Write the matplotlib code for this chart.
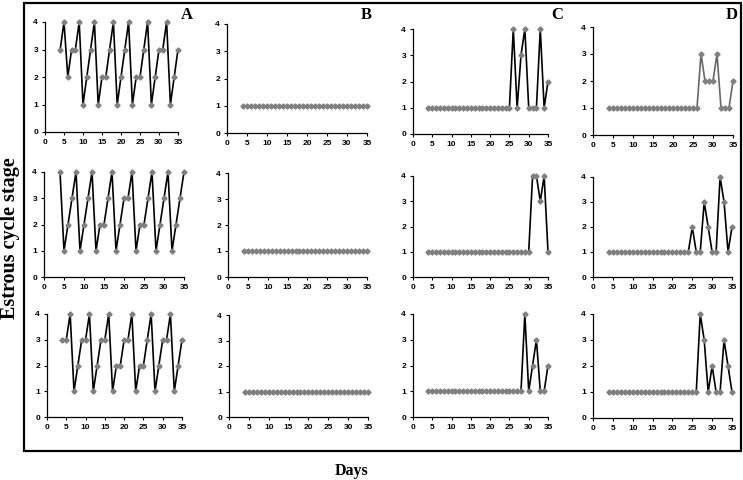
import matplotlib.pyplot as plt
from matplotlib.patches import Rectangle

days = list(range(4, 36))

# row 1..3 for each group A-D (estrous cycle stage per day)
A1 = [3, 4, 2, 3, 3, 4, 1, 2, 3, 4, 1, 2, 2, 3, 4, 1, 2, 3, 4, 1, 2, 2, 3, 4, 1, 2, 3, 3, 4, 1, 2, 3]
A2 = [4, 1, 2, 3, 4, 1, 2, 3, 4, 1, 2, 2, 3, 4, 1, 2, 3, 3, 4, 1, 2, 2, 3, 4, 1, 2, 3, 4, 1, 2, 3, 4]
A3 = [3, 3, 4, 1, 2, 3, 3, 4, 1, 2, 3, 3, 4, 1, 2, 2, 3, 3, 4, 1, 2, 2, 3, 4, 1, 2, 3, 3, 4, 1, 2, 3]
B1 = [1] * 32
B2 = [1] * 32
B3 = [1] * 32
C1 = [1] * 22 + [4, 1, 3, 4, 1, 1, 1, 4, 1, 2]
C2 = [1] * 27 + [4, 4, 3, 4, 1]
C3 = [1] * 25 + [4, 1, 2, 3, 1, 1, 2]
D1 = [1] * 23 + [3, 2, 2, 2, 3, 1, 1, 1, 2]
D2 = [1] * 21 + [2, 1, 1, 3, 2, 1, 1, 4, 3, 1, 2]
D3 = [1] * 23 + [4, 3, 1, 2, 1, 1, 3, 2, 1]

panels = [[A1, B1, C1, D1], [A2, B2, C2, D2], [A3, B3, C3, D3]]
letters = ['A', 'B', 'C', 'D']

# pixel layout: (x at 0, x at 35, y at 4, y at 0)
boxes = [
    [(45, 178, 22, 132), (227, 367, 24, 133), (413, 548, 29, 134), (593, 733, 27, 135)],
    [(44, 184, 172, 277), (228, 367, 173, 277), (413, 548, 176, 277), (593, 732, 177, 277)],
    [(47, 182, 314, 417), (229, 368, 315, 417), (413, 548, 314, 417), (593, 732, 314, 418)],
]
letter_pos = [(187, 15), (366, 15), (557, 15), (732, 15)]

W, H = 743, 480
fig = plt.figure(figsize=(W / 100, H / 100), dpi=100)
tick_font = ['Liberation Sans Narrow', 'Liberation Sans', 'DejaVu Sans']

for r in range(3):
    for c in range(4):
        x0, x1, yt, yb = boxes[r][c]
        ax = fig.add_axes([x0 / W, 1 - yb / H, (x1 - x0) / W, (yb - yt) / H])
        line_col = '#666666' if (r == 0 and c == 3) else 'black'
        ax.plot(days, panels[r][c], color=line_col, lw=1.2, zorder=2, clip_on=False)
        ax.plot(days, panels[r][c], ls='none', marker='D', ms=2.6, color='#808080',
                zorder=3, clip_on=False)
        ax.set_xlim(0, 35)
        ax.set_ylim(0, 4)
        ax.set_xticks(range(0, 36, 5))
        ax.set_yticks(range(0, 5))
        ax.spines['top'].set_visible(False)
        ax.spines['right'].set_visible(False)
        for s in ['left', 'bottom']:
            ax.spines[s].set_linewidth(0.9)
        ax.tick_params(direction='out', length=2, width=0.8, pad=3, labelsize=6)
        for lab in ax.get_xticklabels() + ax.get_yticklabels():
            lab.set_family(tick_font)
            lab.set_fontweight('bold')
        ax.patch.set_alpha(0)

for L, (lx, ly) in zip(letters, letter_pos):
    fig.text(lx / W, 1 - ly / H, L, ha='center', va='center', fontsize=12,
             fontweight='bold', family='Liberation Serif')

fig.text(10 / W, 1 - 238 / H, 'Estrous cycle stage', rotation=90, ha='center',
         va='center', fontsize=14.5, fontweight='bold', family='Liberation Serif')
fig.text(352 / W, 1 - 471 / H, 'Days', ha='center', va='center', fontsize=11.5,
         fontweight='bold', family='Liberation Serif')

frame = Rectangle((24 / W, 1 - 451 / H), (741 - 24) / W, (451 - 3) / H,
                  transform=fig.transFigure, fill=False, lw=1.6, ec='black')
fig.patches.append(frame)

fig.savefig('out.png', dpi=100)
